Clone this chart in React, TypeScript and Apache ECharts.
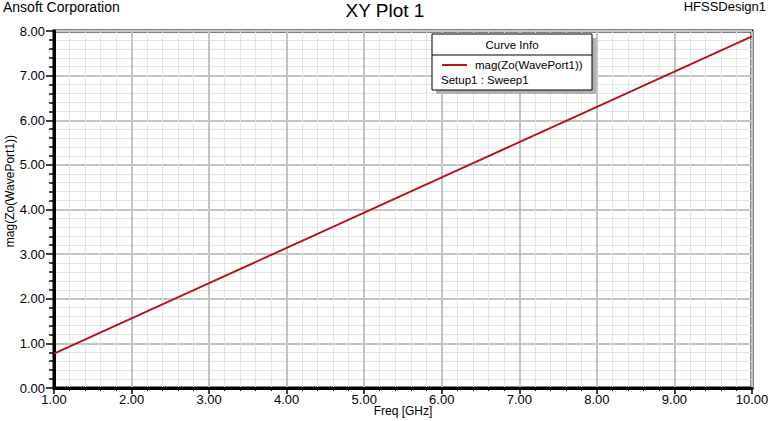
import React, { useEffect, useRef } from "react";
import * as echarts from "echarts";

const freqGHz = [1, 2, 3, 4, 5, 6, 7, 8, 9, 10];
const magZo = [0.77, 1.56, 2.35, 3.14, 3.93, 4.72, 5.51, 6.3, 7.09, 7.88];
const seriesName = "mag(Zo(WavePort1))";
const setupLabel = "Setup1 : Sweep1";
const xAxisTitle = "Freq [GHz]";
const yAxisTitle = "mag(Zo(WavePort1))";

const FONT = "Liberation Sans, Arial, sans-serif";

export default function App() {
  const ref = useRef<HTMLDivElement>(null);
  useEffect(() => {
    if (!ref.current) return;
    const chart = echarts.init(ref.current, null, { renderer: "svg" });
    const lx = 432, ly = 34, lw = 160, lh = 56;
    chart.setOption({
      animation: false,
      backgroundColor: "#ffffff",
      textStyle: { fontFamily: FONT },
      grid: {
        left: 54, right: 18, top: 31, bottom: 33,
        containLabel: false, outerBoundsMode: "none",
        show: true, borderColor: "#000", borderWidth: 3, backgroundColor: "transparent",
      },
      xAxis: {
        type: "value", min: 1, max: 10, interval: 1,
        axisLine: { show: true, onZero: false, lineStyle: { color: "#000", width: 3 } },
        axisTick: { show: true, length: 6, lineStyle: { color: "#000", width: 1.5 } },
        minorTick: { show: true, splitNumber: 5, length: 3, lineStyle: { color: "#000", width: 1 } },
        axisLabel: { color: "#000", fontSize: 13, fontFamily: FONT, margin: 5, formatter: (v: number) => v.toFixed(2) },
        splitLine: { show: true, lineStyle: { color: "#c4c4c4", width: 2 } },
        minorSplitLine: { show: true, lineStyle: { color: "#e4e4e4", width: 1 } },
      },
      yAxis: {
        type: "value", min: 0, max: 8, interval: 1,
        axisLine: { show: true, onZero: false, lineStyle: { color: "#000", width: 3 } },
        axisTick: { show: true, length: 8, lineStyle: { color: "#000", width: 1.5 } },
        minorTick: { show: true, splitNumber: 5, length: 5, lineStyle: { color: "#000", width: 1.5 } },
        axisLabel: { color: "#000", fontSize: 13, fontFamily: FONT, margin: 9, formatter: (v: number) => v.toFixed(2) },
        splitLine: { show: true, lineStyle: { color: "#c4c4c4", width: 2 } },
        minorSplitLine: { show: true, lineStyle: { color: "#e4e4e4", width: 1 } },
      },
      series: [
        {
          type: "line", name: seriesName,
          data: freqGHz.map((f, i) => [f, magZo[i]]),
          showSymbol: false,
          lineStyle: { color: "#b8141c", width: 2 },
          z: 5,
        },
      ],
      graphic: [
        { type: "text", left: 3, top: 0, style: { text: "Ansoft Corporation", font: `14px ${FONT}`, fill: "#000" } },
        { type: "text", x: 385, y: 1, style: { text: "XY Plot 1", font: `19px ${FONT}`, fill: "#000", textAlign: "center" } },
        { type: "text", right: 4, top: 0, style: { text: "HFSSDesign1", font: `13px ${FONT}`, fill: "#000" } },
        { type: "text", x: 403, y: 411, style: { text: xAxisTitle, font: `12px ${FONT}`, fill: "#000", textAlign: "center", textVerticalAlign: "middle" } },
        { type: "text", x: 10, y: 191, rotation: Math.PI / 2, style: { text: yAxisTitle, font: `12px ${FONT}`, fill: "#000", textAlign: "center", textVerticalAlign: "middle" } },
        { type: "rect", shape: { x: lx + 4, y: ly + 4, width: lw, height: lh }, style: { fill: "#b0b0b0" }, z: 10 },
        { type: "rect", shape: { x: lx, y: ly, width: lw, height: lh }, style: { fill: "#fff", stroke: "#000", lineWidth: 1 }, z: 11 },
        { type: "line", shape: { x1: lx, y1: ly + 21, x2: lx + lw, y2: ly + 21 }, style: { stroke: "#000", lineWidth: 1 }, z: 12 },
        { type: "text", x: lx + lw / 2, y: ly + 5, style: { text: "Curve Info", font: `11.5px ${FONT}`, fill: "#000", textAlign: "center" }, z: 12 },
        { type: "line", shape: { x1: lx + 10, y1: ly + 31, x2: lx + 35, y2: ly + 31 }, style: { stroke: "#b8141c", lineWidth: 2 }, z: 12 },
        { type: "text", x: lx + 43, y: ly + 25, style: { text: seriesName, font: `11.5px ${FONT}`, fill: "#000" }, z: 12 },
        { type: "text", x: lx + 9, y: ly + 40, style: { text: setupLabel, font: `11.5px ${FONT}`, fill: "#000" }, z: 12 },
      ],
    });
    return () => chart.dispose();
  }, []);
  return <div ref={ref} style={{ width: 770, height: 421, position: "absolute", left: 0, top: 0 }} />;
}
